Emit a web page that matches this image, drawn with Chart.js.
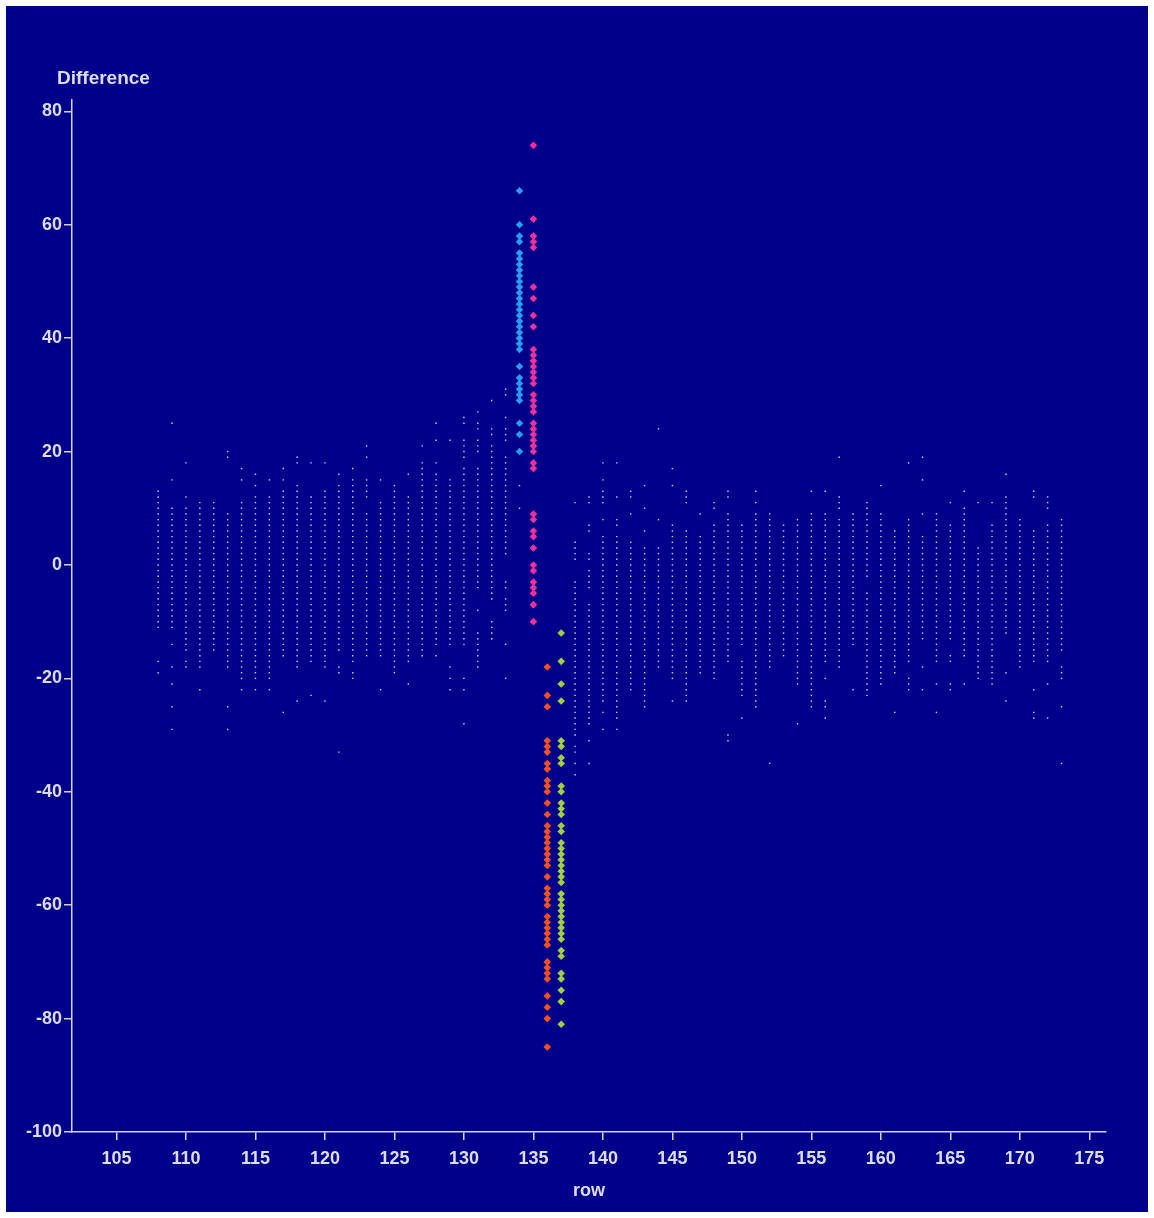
<!DOCTYPE html>
<html>
<head>
<meta charset="utf-8">
<script src="https://cdn.jsdelivr.net/npm/chart.js@4/dist/chart.umd.min.js"></script>
<style>
  html, body { margin: 0; padding: 0; background: #ffffff; }
  #wrap { position: absolute; left: 6px; top: 6px; width: 1142px; height: 1206px; background: #00008a; }
</style>
</head>
<body>
<div id="wrap"><canvas id="myChart" width="1142" height="1206"></canvas></div>
<script>
// tick labels
const xTickValues = [105, 110, 115, 120, 125, 130, 135, 140, 145, 150, 155, 160, 165, 170, 175]
const yTickValues = [-100, -80, -60, -40, -20, 0, 20, 40, 60, 80]

// grey rows and their differences
const greyRows = [108, 109, 110, 111, 112, 113, 114, 115, 116, 117, 118, 119, 120, 121, 122, 123, 124, 125, 126, 127, 128, 129, 130, 131, 132, 133, 134,
    138, 139, 140, 141, 142, 143, 144, 145, 146, 147, 148, 149, 150, 151, 152, 153, 154, 155, 156, 157, 158, 159, 160, 161, 162, 163, 164, 165, 166, 167, 168, 169, 170, 171, 172, 173]
const greyDiffs = [
    [13,12,11,10,9,8,7,6,5,4,3,2,1,0,-1,-2,-3,-4,-5,-6,-7,-8,-9,-10,-11,-17,-19],
    [25,15,10,9,8,7,6,5,4,3,2,1,0,-1,-2,-3,-4,-5,-6,-7,-8,-9,-10,-11,-14,-18,-21,-25,-29],
    [18,12,10,9,8,7,6,5,4,3,2,1,0,-1,-2,-3,-4,-5,-6,-7,-8,-9,-10,-11,-12,-13,-14,-15,-17,-18],
    [11,10,9,8,7,6,5,4,3,2,1,0,-1,-2,-3,-4,-5,-6,-7,-8,-9,-10,-11,-12,-13,-14,-15,-16,-17,-18,-22],
    [11,10,9,8,7,6,5,4,3,2,1,0,-1,-2,-3,-4,-5,-6,-7,-8,-9,-10,-11,-12,-13,-14,-15],
    [20,19,9,8,7,6,5,4,3,2,1,0,-1,-2,-3,-4,-5,-6,-7,-8,-9,-10,-11,-12,-13,-14,-15,-16,-17,-18,-25,-29],
    [17,15,11,10,9,8,7,6,5,4,3,2,1,0,-1,-2,-3,-4,-5,-6,-7,-8,-9,-10,-11,-12,-13,-14,-15,-16,-17,-18,-19,-20,-22],
    [16,14,12,11,10,9,8,7,6,5,4,3,2,1,0,-1,-2,-3,-4,-5,-6,-7,-8,-9,-10,-11,-12,-13,-14,-15,-16,-17,-18,-19,-20,-22],
    [15,12,11,10,9,8,7,6,5,4,3,2,1,0,-1,-2,-3,-4,-5,-6,-7,-8,-9,-10,-11,-12,-13,-14,-15,-16,-17,-18,-19,-20,-22],
    [17,15,13,12,11,10,9,8,7,6,5,4,3,2,1,0,-1,-2,-3,-4,-5,-6,-7,-8,-9,-10,-11,-12,-13,-14,-15,-16,-26],
    [19,18,14,13,12,11,10,9,8,7,6,5,4,3,2,1,0,-1,-2,-3,-4,-5,-6,-7,-8,-9,-10,-11,-12,-13,-14,-15,-16,-17,-18,-24],
    [18,12,11,10,9,8,7,6,5,4,3,2,1,0,-1,-2,-3,-4,-5,-6,-7,-8,-9,-10,-11,-12,-13,-14,-15,-16,-17,-23],
    [18,13,12,11,10,9,8,7,6,5,4,3,2,1,0,-1,-2,-3,-4,-5,-6,-7,-8,-9,-10,-11,-12,-13,-14,-15,-16,-17,-18,-24],
    [16,14,13,12,11,10,9,8,7,6,5,4,3,2,1,0,-1,-2,-3,-4,-5,-6,-7,-8,-9,-10,-11,-12,-13,-14,-15,-18,-19,-33],
    [17,15,14,13,12,11,10,9,8,7,6,5,4,3,2,1,0,-1,-2,-3,-4,-5,-6,-7,-8,-9,-10,-11,-12,-13,-14,-15,-16,-17,-19,-20],
    [21,19,15,14,13,12,9,8,7,6,5,4,3,2,1,0,-1,-2,-3,-4,-5,-6,-7,-8,-9,-10,-11,-12,-13,-14,-15,-16],
    [15,11,10,9,8,7,6,5,4,3,2,1,0,-1,-2,-3,-4,-5,-6,-7,-8,-9,-10,-11,-12,-13,-14,-15,-16,-22],
    [14,13,12,11,10,9,8,7,6,5,4,3,2,1,0,-1,-2,-3,-4,-5,-6,-7,-8,-9,-10,-11,-12,-13,-14,-15,-16,-17,-18,-19],
    [16,12,11,10,9,8,7,6,5,4,3,2,1,0,-1,-2,-3,-4,-5,-6,-7,-8,-9,-10,-11,-12,-13,-14,-15,-16,-17,-21],
    [21,18,17,16,15,14,13,12,11,10,9,8,7,6,5,4,3,2,1,0,-1,-2,-3,-4,-5,-6,-7,-8,-9,-10,-11,-12,-13,-14,-15,-16],
    [25,22,18,16,15,14,13,12,11,10,9,8,7,6,5,4,3,2,1,0,-1,-2,-3,-4,-5,-6,-7,-8,-9,-10,-11,-12,-13,-14,-16],
    [22,15,14,13,12,11,10,9,8,7,6,5,4,3,2,1,0,-1,-2,-3,-4,-5,-6,-7,-8,-9,-10,-11,-12,-13,-14,-18,-20,-22],
    [26,25,22,21,20,19,17,16,15,14,13,12,11,10,9,8,7,6,5,4,3,2,1,0,-1,-2,-3,-4,-5,-6,-7,-8,-9,-10,-11,-12,-13,-14,-20,-22,-28],
    [27,25,24,22,21,20,17,16,15,14,13,12,11,10,9,8,7,6,5,4,3,2,1,0,-1,-2,-3,-4,-8,-12,-13,-14,-15,-16,-17,-18],
    [29,24,23,21,20,19,18,17,16,15,14,13,12,11,10,9,8,7,6,5,4,3,2,1,0,-1,-2,-3,-4,-5,-6,-10,-11,-12,-13],
    [31,30,26,24,23,22,19,18,17,16,15,14,13,12,11,10,9,8,7,6,5,4,3,2,-3,-4,-6,-7,-8,-14,-20],
    [14,10],
    [11,4,3,2,1,-3,-4,-5,-6,-7,-8,-9,-10,-11,-12,-13,-14,-15,-16,-17,-18,-19,-20,-21,-22,-23,-24,-25,-26,-27,-28,-29,-30,-32,-33,-35,-37],
    [12,11,7,6,2,1,-1,-2,-3,-4,-7,-8,-9,-10,-11,-12,-13,-14,-15,-16,-17,-18,-19,-20,-21,-22,-23,-24,-25,-26,-27,-28,-31,-35],
    [18,15,13,12,11,8,5,4,3,2,1,0,-1,-2,-3,-4,-5,-6,-7,-8,-9,-10,-11,-12,-13,-14,-15,-16,-17,-18,-19,-20,-21,-22,-23,-24,-26,-29],
    [18,12,8,7,5,4,3,2,1,0,-1,-2,-3,-4,-5,-6,-7,-8,-9,-10,-11,-12,-13,-14,-15,-16,-17,-18,-19,-20,-21,-22,-23,-24,-25,-26,-27,-29],
    [13,12,9,4,3,2,1,0,-1,-2,-3,-4,-5,-6,-7,-8,-9,-10,-11,-12,-13,-14,-15,-16,-17,-18,-19,-20,-21,-22],
    [14,10,6,3,2,1,0,-1,-2,-3,-4,-5,-6,-7,-8,-9,-10,-11,-12,-13,-14,-15,-16,-17,-18,-19,-20,-21,-22,-23,-24,-25],
    [24,8,3,2,1,0,-1,-2,-3,-4,-5,-6,-7,-8,-9,-10,-11,-12,-13,-14,-15,-16,-17,-18],
    [17,14,7,6,5,4,3,2,1,0,-1,-2,-3,-4,-5,-6,-7,-8,-9,-10,-11,-12,-13,-14,-15,-16,-17,-18,-19,-20,-24],
    [13,12,11,6,5,4,3,2,1,0,-1,-2,-3,-4,-5,-6,-7,-8,-9,-10,-11,-12,-13,-14,-15,-16,-17,-18,-19,-20,-21,-22,-23,-24],
    [9,5,4,3,2,1,0,-1,-2,-3,-4,-5,-6,-7,-8,-9,-10,-11,-12,-13,-14,-15,-16,-17,-18,-19],
    [11,10,7,6,5,4,3,2,1,0,-1,-2,-3,-4,-5,-6,-7,-8,-9,-10,-11,-12,-13,-14,-15,-16,-17,-18,-19,-20],
    [13,12,9,8,7,6,5,4,3,2,1,0,-1,-2,-3,-4,-5,-6,-7,-8,-9,-10,-11,-12,-13,-14,-15,-16,-17,-30,-31],
    [7,6,5,4,3,2,1,0,-1,-2,-3,-4,-5,-6,-7,-8,-9,-10,-11,-12,-13,-14,-17,-18,-19,-20,-21,-22,-23,-27],
    [13,11,9,8,7,6,5,4,3,2,1,0,-1,-2,-3,-4,-5,-6,-7,-8,-9,-10,-11,-12,-13,-14,-15,-16,-17,-18,-19,-20,-21,-22,-23,-24,-25],
    [9,8,7,6,5,4,3,2,1,0,-1,-2,-3,-4,-5,-6,-7,-8,-9,-10,-11,-12,-13,-14,-15,-16,-17,-18,-35],
    [7,6,5,4,3,2,1,0,-1,-2,-3,-4,-5,-6,-7,-8,-9,-10,-11,-12,-13,-14,-15,-16],
    [8,7,6,5,4,3,2,1,0,-1,-2,-3,-4,-5,-6,-7,-8,-9,-10,-11,-12,-13,-14,-15,-16,-17,-18,-19,-20,-21,-28],
    [13,9,8,7,6,5,4,3,2,1,0,-1,-2,-3,-4,-5,-6,-7,-8,-9,-10,-11,-12,-13,-14,-15,-16,-17,-18,-19,-20,-21,-22,-23,-24,-25],
    [13,9,8,7,6,5,4,3,2,1,0,-1,-2,-3,-4,-5,-6,-7,-8,-9,-10,-11,-12,-13,-14,-15,-16,-17,-20,-24,-25,-27],
    [19,12,11,10,8,7,6,5,4,3,2,1,0,-1,-2,-3,-4,-5,-6,-7,-8,-9,-10,-11,-12,-13,-14,-15,-16,-17,-18],
    [9,8,7,6,5,4,3,2,1,0,-1,-2,-3,-4,-5,-6,-7,-8,-9,-10,-11,-12,-13,-14,-22],
    [11,10,9,8,7,6,5,4,3,2,1,0,-1,-2,-5,-6,-7,-8,-9,-10,-11,-12,-13,-14,-15,-16,-17,-18,-19,-20,-21,-22,-23],
    [14,9,8,7,6,5,4,3,2,1,0,-1,-2,-3,-4,-5,-6,-7,-8,-9,-10,-11,-12,-13,-14,-15,-16,-17,-18,-19,-20,-21],
    [6,5,4,3,2,1,0,-1,-2,-3,-4,-5,-6,-7,-8,-9,-10,-11,-12,-13,-14,-15,-16,-17,-18,-19,-26],
    [18,8,7,6,5,4,3,2,1,0,-1,-2,-3,-4,-5,-6,-7,-8,-9,-10,-11,-12,-13,-14,-15,-16,-17,-20,-21,-22],
    [19,15,9,5,4,3,2,1,0,-1,-2,-3,-4,-5,-6,-7,-8,-9,-10,-11,-12,-13,-18,-22],
    [9,8,7,6,5,4,3,2,1,0,-1,-2,-3,-4,-5,-6,-7,-8,-9,-10,-11,-12,-13,-14,-15,-16,-17,-21,-26],
    [11,7,6,5,4,3,2,1,0,-1,-2,-3,-4,-5,-6,-7,-8,-9,-10,-11,-12,-13,-16,-17,-21,-22],
    [13,10,9,8,7,6,5,4,3,2,1,0,-1,-2,-3,-4,-5,-6,-7,-8,-9,-10,-11,-12,-13,-14,-15,-16,-21],
    [11,3,2,1,0,-1,-2,-3,-4,-5,-6,-7,-8,-9,-10,-11,-12,-13,-14,-15,-16,-17,-18,-19,-20],
    [11,7,6,5,4,3,2,1,0,-1,-2,-3,-4,-5,-6,-7,-8,-9,-10,-11,-12,-13,-14,-15,-16,-17,-18,-19,-20,-21],
    [16,12,11,10,9,8,7,6,5,4,3,2,1,0,-1,-2,-3,-4,-5,-6,-7,-8,-9,-10,-11,-12,-19,-24],
    [8,7,6,5,4,3,2,1,0,-1,-2,-3,-4,-5,-6,-7,-8,-9,-10,-11,-12,-13,-14,-15,-16,-17,-18],
    [13,12,6,5,4,3,2,1,0,-1,-2,-3,-4,-5,-6,-7,-8,-9,-10,-11,-12,-13,-14,-15,-16,-17,-22,-26,-27],
    [12,11,10,7,6,5,4,3,2,1,0,-1,-2,-3,-4,-5,-6,-7,-8,-9,-10,-11,-12,-13,-14,-15,-16,-17,-21,-27],
    [8,7,6,5,4,3,2,1,0,-1,-2,-3,-4,-5,-6,-7,-8,-9,-10,-11,-12,-13,-14,-15,-18,-19,-20,-25,-35]
]

// highlighted rows
const blueRow = 134
const blueDiffs = [66,60,58,57,55,54,53,52,51,50,49,48,47,46,45,44,43,42,41,40,39,38,35,33,32,31,30,29,25,23,20]
const pinkRow = 135
const pinkDiffs = [74,61,58,57,56,49,47,44,42,38,37,36,35,34,33,32,30,29,28,27,25,24,23,22,21,20,18,17,9,8,6,5,3,0,-1,-3,-4,-5,-7,-10]
const orangeRow = 136
const orangeDiffs = [-18,-23,-25,-31,-32,-33,-35,-36,-38,-39,-40,-42,-44,-46,-47,-48,-49,-50,-51,-52,-53,-55,-57,-58,-59,-60,-62,-63,-64,-65,-66,-67,-70,-71,-72,-73,-76,-78,-80,-85]
const greenRow = 137
const greenDiffs = [-12,-17,-21,-24,-31,-32,-34,-35,-39,-40,-42,-43,-44,-46,-47,-49,-50,-51,-52,-53,-54,-55,-56,-58,-59,-60,-61,-62,-63,-64,-65,-66,-68,-69,-72,-73,-75,-77,-81]

const axisColor = '#d4d4e4'
const textColor = '#dcdcec'
const labelFont = { family: '"Liberation Sans", Arial, sans-serif', size: 18, weight: 'bold' }

let greyPoints = []
greyRows.map((row, i) => {
    greyDiffs[i].map(v => greyPoints.push({ x: row, y: v }))
})

const toPoints = (row, diffs) => diffs.map(v => ({ x: row, y: v }))

const colored = (label, row, diffs, color) => ({
    label: label,
    data: toPoints(row, diffs),
    backgroundColor: color,
    borderColor: color,
    borderWidth: 0,
    pointStyle: 'rectRot',
    pointRadius: 3.8
})

const yTitle = {
    id: 'yTitle',
    afterDraw(chart) {
        const ctx = chart.ctx
        ctx.save()
        ctx.fillStyle = textColor
        ctx.font = 'bold 19px "Liberation Sans", Arial, sans-serif'
        ctx.textAlign = 'left'
        ctx.textBaseline = 'middle'
        ctx.fillText('Difference', 51, 73)
        ctx.restore()
    }
}

new Chart(document.getElementById('myChart'), {
    type: 'scatter',
    data: {
        datasets: [
            {
                label: 'all rows',
                data: greyPoints,
                backgroundColor: '#d0d0ec',
                borderWidth: 0,
                pointStyle: 'rect',
                pointRadius: 1
            },
            colored('134', blueRow, blueDiffs, '#2a9cf4'),
            colored('135', pinkRow, pinkDiffs, '#f0309c'),
            colored('136', orangeRow, orangeDiffs, '#f8501c'),
            colored('137', greenRow, greenDiffs, '#a0d040')
        ]
    },
    options: {
        responsive: false,
        animation: false,
        layout: { padding: { top: 94, right: 42, left: 0, bottom: 0 } },
        plugins: {
            legend: { display: false },
            tooltip: { enabled: false }
        },
        scales: {
            x: {
                type: 'linear',
                min: 101.8,
                max: 176.2,
                afterBuildTicks: s => { s.ticks = xTickValues.map(v => ({ value: v })) },
                afterFit: s => { s.height = 80 },
                grid: { drawOnChartArea: false, drawTicks: true, tickLength: 8, color: axisColor, lineWidth: 1.5 },
                border: { display: true, color: axisColor, width: 1.5 },
                ticks: { color: textColor, padding: 8, maxRotation: 0, font: labelFont },
                title: { display: true, text: 'row', color: textColor, padding: { top: 4, bottom: 10 }, font: labelFont }
            },
            y: {
                type: 'linear',
                min: -100,
                max: 82,
                afterBuildTicks: s => { s.ticks = yTickValues.map(v => ({ value: v })) },
                afterFit: s => { s.width = 66 },
                grid: { drawOnChartArea: false, drawTicks: true, tickLength: 8, color: axisColor, lineWidth: 1.5 },
                border: { display: true, color: axisColor, width: 1.5 },
                ticks: { color: textColor, padding: 2, font: labelFont }
            }
        }
    },
    plugins: [yTitle]
})
</script>
</body>
</html>
